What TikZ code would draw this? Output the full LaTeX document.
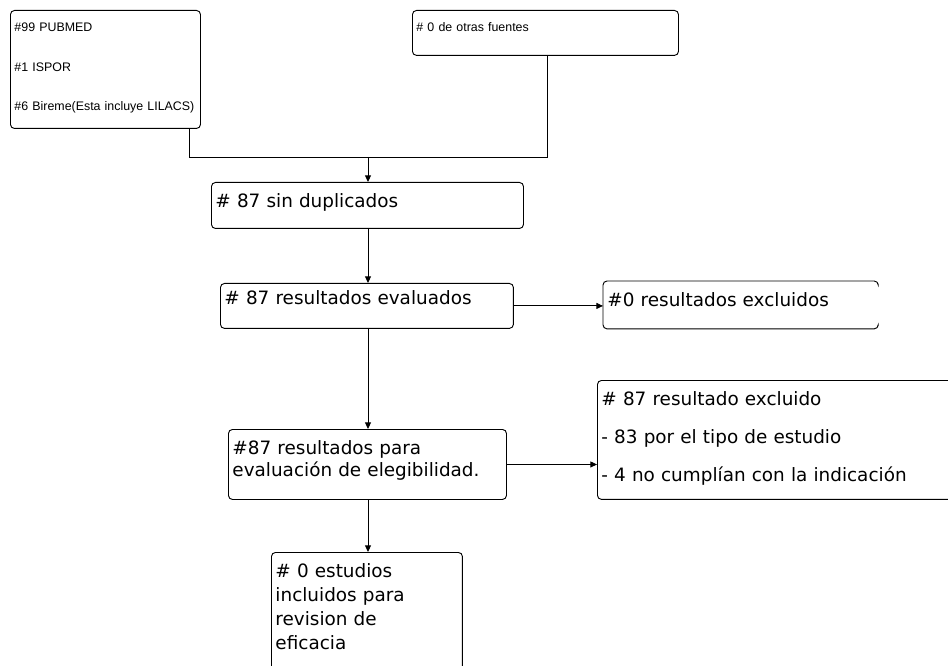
\documentclass[tikz,border=0pt]{standalone}
\usepackage{fontspec}
\setmainfont{DejaVu Sans}
\newfontfamily\srcfont{Liberation Sans}
\usetikzlibrary{arrows.meta}
\tikzset{
  flowbox/.style={draw, line width=0.7pt, rounded corners=3pt, anchor=north west,
    inner xsep=3pt, inner ysep=0pt, align=left,
    font=\fontsize{13.8}{16.6}\selectfont},
  srcbox/.style={flowbox, font=\srcfont\fontsize{9.3}{11.2}\selectfont},
  flow/.style={-{Triangle[length=5pt,width=4.5pt]}, line width=0.7pt},
}
\begin{document}
\begin{tikzpicture}[x=0.75pt,y=-0.75pt]
      \useasboundingbox (0,0) rectangle (948,666);
      \node[srcbox, text width=136.5pt, text height=16.1pt, text depth=72.4pt]
        (pubmed) at (10,10) {\#99 PUBMED\\[18.4pt]\#1 ISPOR\\[18.4pt]\#6 Bireme(Esta incluye LILACS)};
      \node[srcbox, text width=193.5pt, text height=16.1pt, text depth=17.6pt]
        (otras) at (412,10) {\# 0 de otras fuentes};
      \node[flowbox, text width=228pt, text height=18.5pt, text depth=16pt]
        (sindup) at (211,182) {\# 87 sin duplicados};
      \node[flowbox, text width=213.7pt, text height=15.5pt, text depth=18.2pt]
        (evaluados) at (220,283) {\# 87 resultados evaluados};
      \node[flowbox, draw=none, text width=201.7pt, text height=18.5pt, text depth=16.7pt]
        (excl0) at (603,281) {\#0 resultados excluidos};
      \node[flowbox, text width=202.5pt, text height=18.5pt, text depth=34pt]
        (elegib) at (228,429) {\#87 resultados para\\evaluación de elegibilidad.};
      \node[flowbox, text width=266pt, text height=18.5pt, text depth=70.7pt]
        (excl87) at (597,380) {\# 87 resultado excluido\\[11.9pt]- 83 por el tipo de estudio\\[11.9pt]- 4 no cumplían con la indicación};
      \node[flowbox, text width=137.2pt, text height=18.5pt, text depth=112pt]
        (incluidos) at (271,552) {\# 0 estudios\\[1.6pt]incluidos para\\[1.6pt]revision de\\[1.6pt]eficacia};
      % open right side of the exclusion box
      \draw[line width=0.7pt, rounded corners=3pt]
        ([xshift=-2pt,yshift=-2pt]excl0.north east) -- ([xshift=-2pt]excl0.north east)
        -- (excl0.north west) -- (excl0.south west) -- ([xshift=-2pt]excl0.south east)
        -- ([xshift=-2pt,yshift=2pt]excl0.south east);
      \coordinate (ja) at (189,157);
      \coordinate (jb) at (547,157);
      \coordinate (jm) at (368,157);
      \draw[line width=0.7pt] (pubmed.south -| ja) -- (ja) -- (jb) -- (otras.south -| jb);
      \begin{scope}[flow]
        \draw (jm) to (sindup.north -| jm);
        \draw (sindup.south -| jm) to (evaluados.north -| jm);
        \draw (evaluados.east) to (evaluados.east -| excl0.west);
        \draw (evaluados.south -| jm) to (elegib.north -| jm);
        \draw (elegib.east) to (elegib.east -| excl87.west);
        \draw (elegib.south -| jm) to (incluidos.north -| jm);
      \end{scope}
    \end{tikzpicture}
\end{document}
